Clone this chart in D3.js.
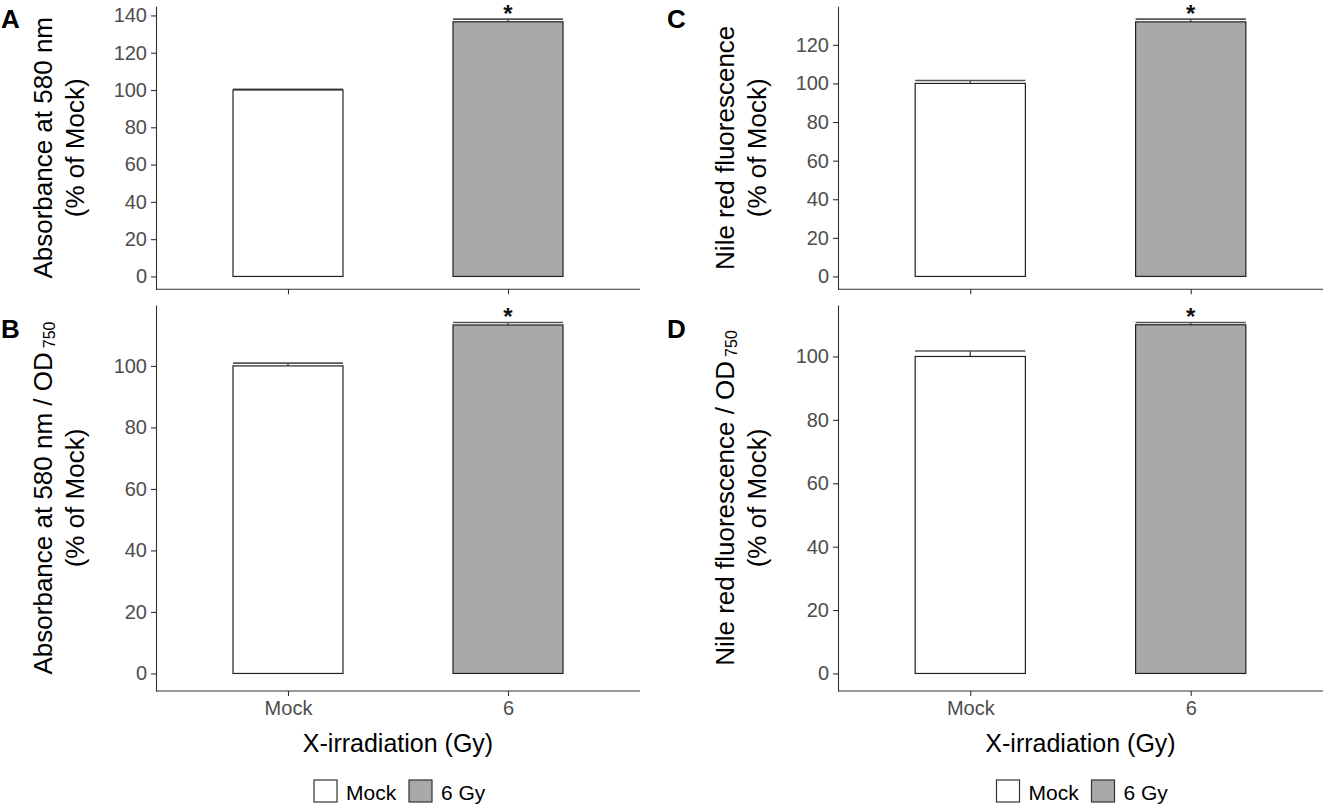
<!DOCTYPE html>
<html>
<head>
<meta charset="utf-8">
<script src="https://cdn.jsdelivr.net/npm/d3@7"></script>
<style>
  body { margin: 0; background: #fff; }
  svg { display: block; font-family: "Liberation Sans", Arial, sans-serif; }
</style>
</head>
<body>
<svg id="chart" width="1328" height="809"></svg>
<script>
// categories on the x axis and the legend
const groups = ['Mock', '6'];
const legendLabels = ['Mock', '6 Gy'];
const fills = ['#ffffff', '#a9a9a9'];

// mean and standard error per panel
const meanA = [100, 136.6];
const seA = [0.4, 1.4];
const meanB = [100, 113.3];
const seB = [0.9, 0.8];
const meanC = [100, 131.9];
const seC = [1.5, 1.4];
const meanD = [100, 110.0];
const seD = [1.7, 0.7];

// y tick labels
const ticksA = [0, 20, 40, 60, 80, 100, 120, 140];
const ticksB = [0, 20, 40, 60, 80, 100];
const ticksC = [0, 20, 40, 60, 80, 100, 120];
const ticksD = [0, 20, 40, 60, 80, 100];

const svg = d3.select('#chart');

const tickColor = '#4d4d4d';
const axisColor = '#333';

function drawPanel(opt) {
    const g = svg.append('g');
    const { x0, x1, yTop, yBottom, means, ses, ticks } = opt;

    // ggplot-like 5% expansion around 0 .. max(mean + se)
    const maxTop = d3.max(means.map((m, i) => m + ses[i]));
    const y = d3.scaleLinear()
        .domain([-0.05 * maxTop, 1.05 * maxTop])
        .range([yBottom, yTop]);

    const x = d3.scalePoint()
        .domain(groups)
        .range([x0, x1])
        .padding(0.6);
    const barW = x.step() * 0.5;

    // error bars first, bars drawn over them
    groups.forEach((grp, i) => {
        const cx = x(grp);
        const top = y(means[i] + ses[i]);
        const bot = y(means[i] - ses[i]);
        g.append('line')
            .attr('x1', cx).attr('x2', cx)
            .attr('y1', top).attr('y2', bot)
            .attr('stroke', '#444').attr('stroke-width', 1.3);
        [top, bot].forEach(yy => {
            g.append('line')
                .attr('x1', cx - barW / 2).attr('x2', cx + barW / 2)
                .attr('y1', yy).attr('y2', yy)
                .attr('stroke', '#555').attr('stroke-width', 1.6);
        });
    });

    g.selectAll('rect.bar')
        .data(groups)
        .enter()
        .append('rect')
        .attr('class', 'bar')
        .attr('x', d => x(d) - barW / 2)
        .attr('y', (d, i) => y(means[i]))
        .attr('width', barW)
        .attr('height', (d, i) => y(0) - y(means[i]))
        .attr('fill', (d, i) => fills[i])
        .attr('stroke', '#222')
        .attr('stroke-width', 1.2);

    // significance stars
    groups.forEach((grp, i) => {
        if (i === 0) return;
        g.append('text')
            .attr('x', x(grp))
            .attr('y', y(means[i] + ses[i]) + 2.6)
            .attr('text-anchor', 'middle')
            .attr('font-size', '24px')
            .attr('font-weight', 'bold')
            .attr('fill', '#111')
            .text('*');
    });

    // y axis
    const yAxis = g.append('g')
        .attr('transform', `translate(${x0},0)`)
        .call(d3.axisLeft(y).tickValues(ticks).tickSize(5).tickPadding(4).tickSizeOuter(0));
    yAxis.select('.domain').attr('stroke', axisColor).attr('stroke-width', 1.1);
    yAxis.selectAll('.tick line').attr('stroke', axisColor).attr('stroke-width', 1.1);
    yAxis.selectAll('.tick text')
        .attr('fill', tickColor)
        .attr('font-size', '20px')
        .attr('font-family', '"Liberation Sans", Arial, sans-serif');

    // x axis
    const xAxis = g.append('g')
        .attr('transform', `translate(0,${yBottom})`)
        .call(d3.axisBottom(x).tickSize(5).tickPadding(5).tickSizeOuter(0));
    xAxis.select('.domain')
        .attr('d', `M${x0},0H${x1}`)
        .attr('stroke', axisColor).attr('stroke-width', 1.1);
    xAxis.selectAll('.tick line').attr('stroke', axisColor).attr('stroke-width', 1.1);
    xAxis.selectAll('.tick text')
        .attr('fill', tickColor)
        .attr('font-size', '20px')
        .attr('font-family', '"Liberation Sans", Arial, sans-serif')
        .style('display', opt.showX ? null : 'none');

    // y title, two lines, rotated
    const cy = (yTop + yBottom) / 2;
    const t1 = g.append('text')
        .attr('transform', `translate(${x0 - 104},${cy}) rotate(-90)`)
        .attr('text-anchor', 'middle')
        .attr('font-size', '26px')
        .attr('fill', '#000');
    t1.append('tspan').text(opt.title1);
    if (opt.sub) {
        t1.append('tspan').attr('font-size', '16px').attr('dx', 4).attr('dy', 3).text(opt.sub);
    }
    g.append('text')
        .attr('transform', `translate(${x0 - 72},${cy}) rotate(-90)`)
        .attr('text-anchor', 'middle')
        .attr('font-size', '26px')
        .attr('fill', '#000')
        .text('(% of Mock)');

    // panel letter
    g.append('text')
        .attr('x', opt.letterX)
        .attr('y', opt.letterY)
        .attr('font-size', '26px')
        .attr('font-weight', 'bold')
        .attr('fill', '#000')
        .text(opt.letter);

    if (opt.showX) {
        const mid = (x0 + x1) / 2;
        g.append('text')
            .attr('x', mid)
            .attr('y', 752)
            .attr('text-anchor', 'middle')
            .attr('font-size', '25px')
            .attr('fill', '#000')
            .text('X-irradiation (Gy)');

        // legend
        const legendX = [mid - 84, mid + 11];
        legendLabels.forEach((lab, i) => {
            g.append('rect')
                .attr('x', legendX[i]).attr('y', 780)
                .attr('width', 23).attr('height', 22)
                .attr('fill', fills[i])
                .attr('stroke', '#333').attr('stroke-width', 1.2);
            g.append('text')
                .attr('x', legendX[i] + 32).attr('y', 800)
                .attr('font-size', '21px')
                .attr('fill', '#000')
                .text(lab);
        });
    }
}

drawPanel({ letter: 'A', letterX: 1, letterY: 28, x0: 156, x1: 640, yTop: 6.3, yBottom: 289.3,
    means: meanA, ses: seA, ticks: ticksA, title1: 'Absorbance at 580 nm', showX: false });
drawPanel({ letter: 'B', letterX: 1, letterY: 338, x0: 156, x1: 640, yTop: 305, yBottom: 691,
    means: meanB, ses: seB, ticks: ticksB, title1: 'Absorbance at 580 nm / OD', sub: '750', showX: true });
drawPanel({ letter: 'C', letterX: 667, letterY: 28, x0: 838, x1: 1323, yTop: 6.3, yBottom: 289.3,
    means: meanC, ses: seC, ticks: ticksC, title1: 'Nile red fluorescence', showX: false });
drawPanel({ letter: 'D', letterX: 667, letterY: 338, x0: 838, x1: 1323, yTop: 305, yBottom: 691,
    means: meanD, ses: seD, ticks: ticksD, title1: 'Nile red fluorescence / OD', sub: '750', showX: true });
</script>
</body>
</html>
